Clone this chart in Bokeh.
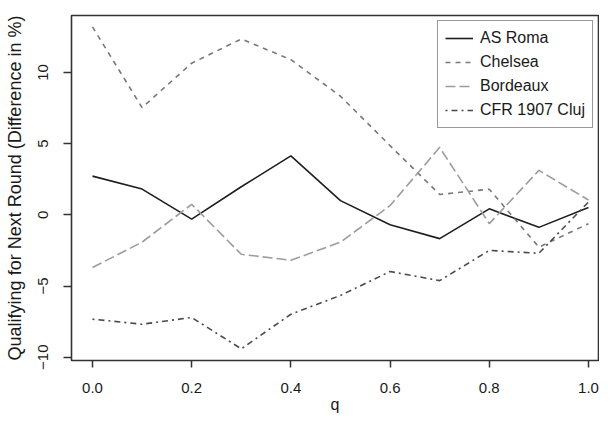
from bokeh.plotting import figure
from bokeh.models import FixedTicker, Range1d, NumeralTickFormatter, CustomJSTickFormatter
from bokeh.embed import file_html
from bokeh.resources import INLINE

# ---- data ----
q = [0.0, 0.1, 0.2, 0.3, 0.4, 0.5, 0.6, 0.7, 0.8, 0.9, 1.0]
as_roma = [2.72, 1.81, -0.30, 1.97, 4.14, 1.00, -0.70, -1.67, 0.42, -0.88, 0.51]
chelsea = [13.20, 7.53, 10.65, 12.35, 10.90, 8.33, 4.86, 1.43, 1.80, -2.27, -0.62]
bordeaux = [-3.70, -1.92, 0.74, -2.77, -3.19, -1.92, 0.65, 4.74, -0.62, 3.12, 1.04]
cfr_cluj = [-7.33, -7.68, -7.21, -9.41, -6.98, -5.66, -3.98, -4.62, -2.50, -2.70, 0.90]
series_names = ["AS Roma", "Chelsea", "Bordeaux", "CFR 1907 Cluj"]
x_ticks = [0.0, 0.2, 0.4, 0.6, 0.8, 1.0]
y_ticks = [-10, -5, 0, 5, 10]
x_title = "q"
y_title = "Qualifying for Next Round (Difference in %)"

FONT = "Liberation Sans"
TXT = "#1a1a1a"

p = figure(width=599, height=417, output_backend="svg", toolbar_location=None,
           x_range=Range1d(-0.0423, 1.0202), y_range=Range1d(-10.23, 14.0),
           min_border_left=71, min_border_right=1, min_border_top=15, min_border_bottom=57,
           background_fill_color="white", border_fill_color="white")

styles = [
    dict(color="#1e1e1e", line_dash="solid", line_width=1.6),
    dict(color="#787878", line_dash="5 5", line_width=1.6),
    dict(color="#9c9c9c", line_dash="10 4", line_width=1.6),
    dict(color="#4a4a4a", line_dash="2 4 6 4", line_width=1.6),
]
for name, ys, st in zip(series_names, [as_roma, chelsea, bordeaux, cfr_cluj], styles):
    p.line(q, ys, legend_label=name, **st)

p.xgrid.visible = False
p.ygrid.visible = False
p.outline_line_color = "#333333"
p.outline_line_width = 1.6

for ax in (p.xaxis[0], p.yaxis[0]):
    ax.axis_line_color = None
    ax.major_tick_line_color = "#333333"
    ax.major_tick_line_width = 1.5
    ax.major_tick_in = 0
    ax.minor_tick_line_color = None
    ax.major_label_text_font = FONT
    ax.major_label_text_font_size = "15px"
    ax.major_label_text_color = TXT
    ax.axis_label_text_font = FONT
    ax.axis_label_text_font_style = "normal"
    ax.axis_label_text_color = TXT

xa = p.xaxis[0]
xa.ticker = FixedTicker(ticks=x_ticks)
xa.formatter = NumeralTickFormatter(format="0.0")
xa.major_tick_out = 7
xa.major_label_standoff = 15
xa.axis_label = x_title
xa.axis_label_text_font_size = "16px"
xa.axis_label_standoff = 0

ya = p.yaxis[0]
ya.ticker = FixedTicker(ticks=y_ticks)
ya.formatter = CustomJSTickFormatter(code="return tick < 0 ? '\u2212' + Math.abs(tick) : String(tick);")
ya.major_label_orientation = "vertical"
ya.major_tick_out = 8
ya.major_label_standoff = 15
ya.axis_label = y_title
ya.axis_label_text_font_size = "18px"
ya.axis_label_standoff = 11

lg = p.legend[0]
lg.location = (366, 232)
lg.border_line_color = "#333333"
lg.border_line_width = 1.3
lg.background_fill_color = "white"
lg.background_fill_alpha = 1.0
lg.label_text_font = FONT
lg.label_text_font_size = "16px"
lg.label_text_color = TXT
lg.glyph_width = 28
lg.glyph_height = 20
lg.label_height = 20
lg.label_standoff = 7
lg.spacing = 4
lg.padding = 7
lg.margin = 0

open("out.html", "w").write(file_html(p, INLINE))
